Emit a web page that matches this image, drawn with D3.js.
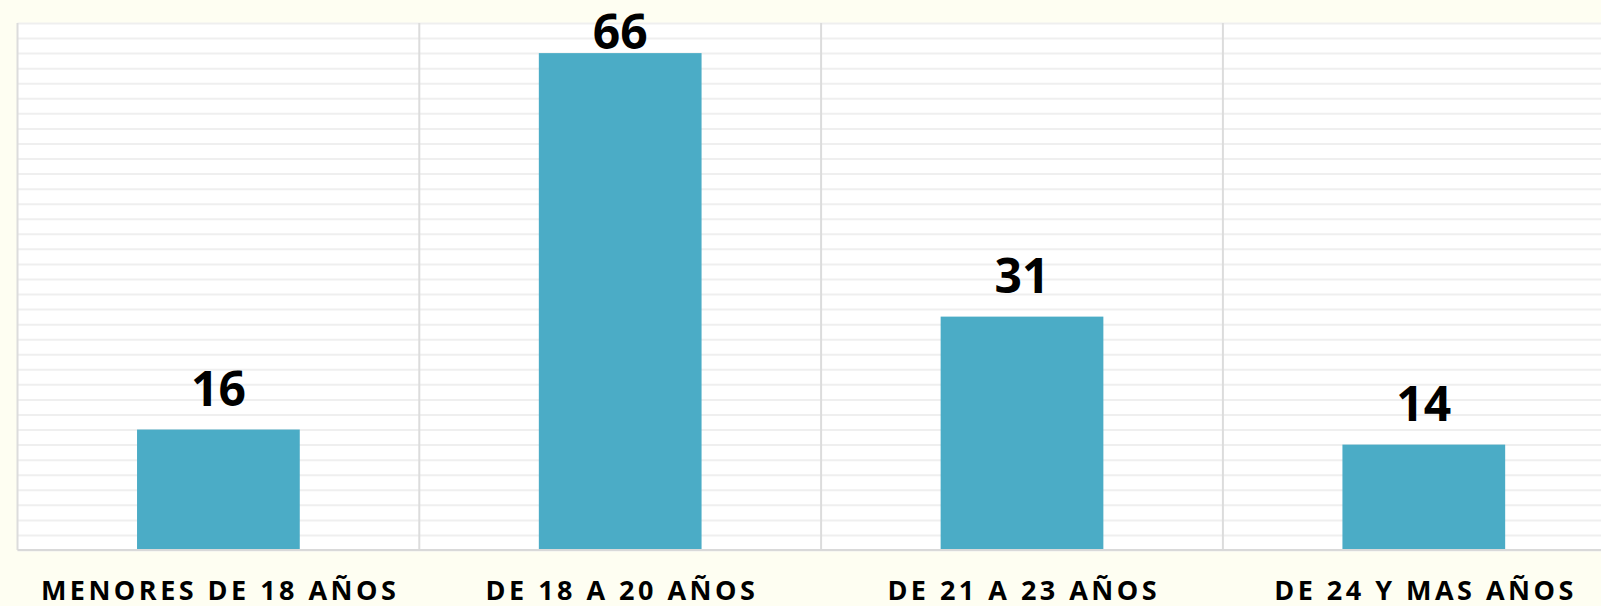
<!DOCTYPE html>
<html>
<head>
<meta charset="utf-8">
<script src="https://cdn.jsdelivr.net/npm/d3@7"></script>
<style>
  html, body { margin: 0; padding: 0; background: #fefef2; }
  svg { display: block; }
</style>
</head>
<body>
<svg id="chart" width="1601" height="606"></svg>
<script>
const categories = ["MENORES DE 18 AÑOS", "DE 18 A 20 AÑOS", "DE 21 A 23 AÑOS", "DE 24 Y MAS AÑOS"];
const values = [16, 66, 31, 14];
const yMax = 70;
const gridStep = 2;

const W = 1601, H = 606;
const margin = { left: 17.5, top: 23, bottom: 56 };
const plotW = 1607.2; // plot extends past right edge (clipped)
const plotH = H - margin.top - margin.bottom;

const svg = d3.select("#chart");
svg.append("rect").attr("width", W).attr("height", H).attr("fill", "#fefef2");

const g = svg.append("g").attr("transform", `translate(${margin.left},${margin.top})`);

const x = d3.scaleBand().domain(categories).range([0, plotW]).padding(0);
const y = d3.scaleLinear().domain([0, yMax]).range([plotH, 0]);

g.append("rect").attr("width", plotW).attr("height", plotH).attr("fill", "#ffffff");

// horizontal gridlines
const gridVals = d3.range(0, yMax + gridStep / 2, gridStep);
g.append("g").call(
  d3.axisLeft(y).tickValues(gridVals).tickSize(-plotW).tickFormat("")
).call(s => s.select(".domain").remove())
 .call(s => s.selectAll(".tick line").attr("stroke", "#efefef").attr("stroke-width", 2));

// vertical separators
g.append("g").selectAll("line")
  .data(categories)
  .join("line")
  .attr("x1", d => x(d)).attr("x2", d => x(d))
  .attr("y1", 0).attr("y2", plotH)
  .attr("stroke", "#dcdcdc").attr("stroke-width", 2);

// bars
const barW = x.bandwidth() * 0.405;
g.append("g").selectAll("rect")
  .data(values)
  .join("rect")
  .attr("x", (d, i) => x(categories[i]) + (x.bandwidth() - barW) / 2)
  .attr("y", d => y(d))
  .attr("width", barW)
  .attr("height", d => plotH - y(d))
  .attr("fill", "#4bacc6");

// baseline axis
g.append("line").attr("x1", 0).attr("x2", plotW).attr("y1", plotH).attr("y2", plotH)
  .attr("stroke", "#d9d9d9").attr("stroke-width", 2);

// value labels
g.append("g").selectAll("text")
  .data(values)
  .join("text")
  .attr("x", (d, i) => x(categories[i]) + x.bandwidth() / 2)
  .attr("y", d => Math.max(y(d) - 24, 26))
  .attr("text-anchor", "middle")
  .attr("font-family", "'Open Sans', sans-serif")
  .attr("font-weight", 700)
  .attr("font-size", 48)
  .attr("fill", "#000")
  .text(d => d);

// category labels
const catG = g.append("g");
const catText = catG.selectAll("text")
  .data(categories)
  .join("text")
  .attr("x", d => x(d) + x.bandwidth() / 2)
  .attr("y", plotH + 50)
  .attr("text-anchor", "middle")
  .attr("font-family", "'Open Sans', sans-serif")
  .attr("font-weight", 700)
  .attr("font-size", 27)
  .attr("fill", "#000")
  .text(d => d);

// letter spacing tuned so the first label spans ~355px
const first = catText.node();
const natural = first.getComputedTextLength();
const n = categories[0].length;
const ls = Math.max(0, (355 - natural) / (n - 1));
catText.attr("letter-spacing", ls)
  .attr("dx", ls / 2);
</script>
</body>
</html>
